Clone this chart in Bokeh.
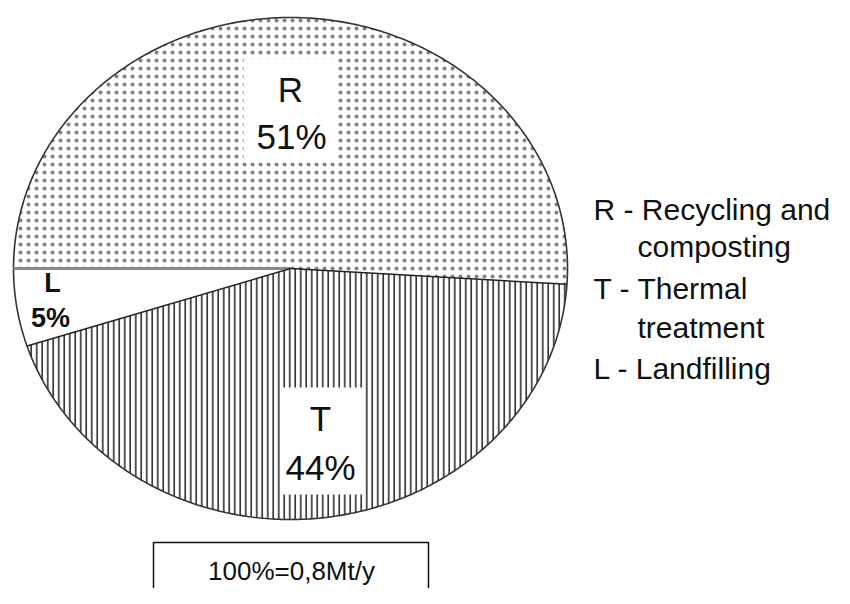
import numpy as np
from bokeh.plotting import figure
from bokeh.models import Range1d
from bokeh.embed import file_html
from bokeh.resources import INLINE
from bokeh.core.properties import value

# ---------------- data ----------------
categories = ["R", "T", "L"]
shares = [51, 44, 5]
legend_lines = ["R - Recycling and", "composting", "T - Thermal", "treatment", "L - Landfilling"]
total_note = "100%=0,8Mt/y"

# ---------------- layout / style constants ----------------
W, H = 834, 588
CX, CY, RX, RY = 290, 268, 277, 251 # pie (ellipse) centre and radii, in pixels
START_DEG = 180                     # first slice starts at 9 o'clock, clockwise
FONT = value("Liberation Sans")

p = figure(width=W, height=H,
           x_range=Range1d(0, W), y_range=Range1d(H, 0),
           output_backend="svg", toolbar_location=None, min_border=0,
           x_axis_location=None, y_axis_location=None,
           outline_line_color=None, background_fill_color="white",
           border_fill_color="white")
p.grid.visible = False

fr = np.array(shares, dtype=float) / sum(shares)
ends = START_DEG - 360 * np.cumsum(fr)
starts = np.concatenate([[START_DEG], ends[:-1]])


def arc(a0, a1, n=300):
    th = np.deg2rad(np.linspace(a0, a1, n))
    return CX + RX * np.cos(th), CY - RY * np.sin(th)


slice_xs, slice_ys = [], []
for a0, a1 in zip(starts, ends):
    ax, ay = arc(a0, a1)
    slice_xs.append([CX] + list(ax))
    slice_ys.append([CY] + list(ay))

hatches = {"R": dict(hatch_pattern="dot", hatch_scale=8, hatch_color="#808080", hatch_weight=0.7),
           "T": dict(hatch_pattern="vertical_line", hatch_scale=5.5, hatch_color="#1e1e1e", hatch_weight=1.5),
           "L": dict()}
for cat, xs, ys in zip(categories, slice_xs, slice_ys):
    p.patch(xs, ys, fill_color="white", line_color=None, **hatches[cat])

# clear boxes behind the R and T labels
p.quad(left=[243, 280], right=[335, 362], top=[58, 387], bottom=[162, 494],
       fill_color="white", line_color=None)

# pie outline
ox, oy = arc(0, 360, 600)
p.line(ox, oy, line_color="#333333", line_width=1.6)

# slice boundaries
for i, a in enumerate(starts):
    t = np.deg2rad(a)
    col, lw = ("#8a8a8a", 3) if i == 0 else ("#222222", 1.5)
    p.line([CX, CX + RX * np.cos(t)], [CY, CY - RY * np.sin(t)], line_color=col, line_width=lw)

# slice labels
pct = [f"{s}%" for s in shares]
p.text(x=[290, 291], y=[89, 136], text=[categories[0], pct[0]],
       text_font=FONT, text_font_size="35px", text_align="center",
       text_baseline="middle", text_color="#111111")
p.text(x=[320, 320], y=[418, 467], text=[categories[1], pct[1]],
       text_font=FONT, text_font_size="35px", text_align="center",
       text_baseline="middle", text_color="#111111")
p.text(x=[52, 50], y=[282, 317], text=[categories[2], pct[2]],
       text_font=FONT, text_font_size="27px", text_font_style="bold",
       text_align="center", text_baseline="middle", text_color="#111111")

# legend text
p.text(x=[593, 637, 593, 637, 593], y=[209, 246, 288, 327, 368], text=legend_lines,
       text_font=FONT, text_font_size="30px", text_align="left",
       text_baseline="middle", text_color="#111111")

# total box
p.quad(left=153, right=428, top=542, bottom=640, fill_color="white",
       line_color="#111111", line_width=1.5)
p.text(x=[291], y=[570], text=[total_note], text_font=FONT, text_font_size="26px",
       text_align="center", text_baseline="middle", text_color="#111111")

open("out.html", "w").write(file_html(p, INLINE))
